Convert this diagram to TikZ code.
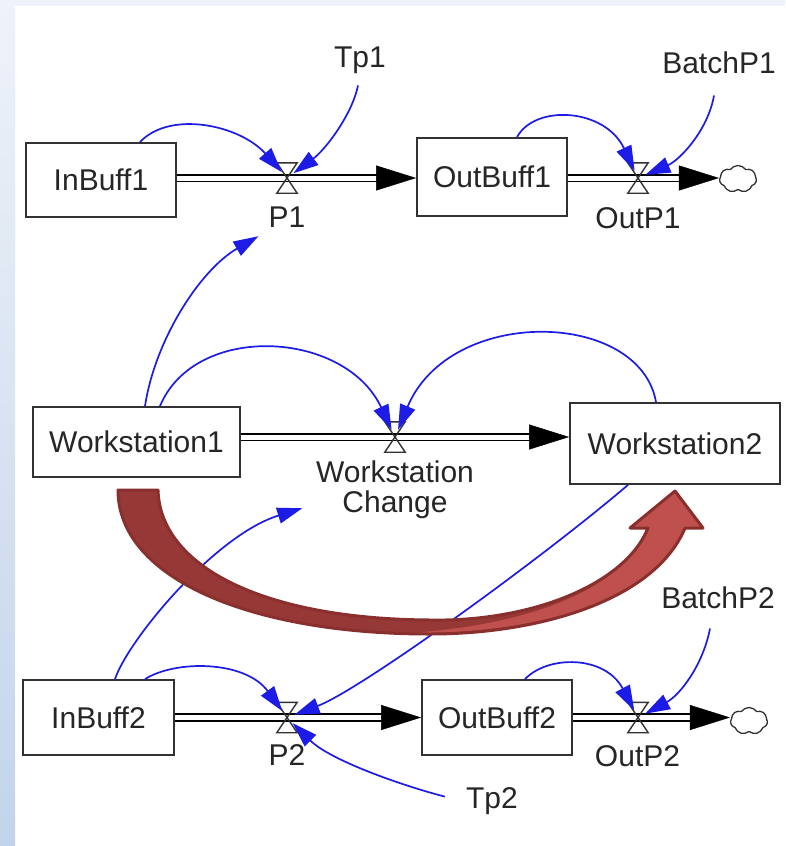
\documentclass[tikz,border=0pt]{standalone}
\usepackage{fontspec}
\setmainfont{Liberation Sans}
\usetikzlibrary{arrows.meta,shapes.symbols,calc}

\definecolor{inkgray}{RGB}{38,38,38}
\definecolor{boxgray}{RGB}{50,50,50}
\definecolor{linkblue}{RGB}{28,28,230}
\definecolor{bandDark}{RGB}{150,56,54}
\definecolor{bandLight}{RGB}{192,80,77}
\definecolor{bandEdge}{RGB}{137,48,46}
\definecolor{stripTop}{RGB}{238,242,250}
\definecolor{stripBot}{RGB}{195,212,234}

\begin{document}
\begin{tikzpicture}[x=1pt,y=-1pt,
  every node/.style={font=\fontsize{30}{34}\selectfont, text=inkgray},
  stock/.style={draw=boxgray, line width=1.8pt, fill=white, inner sep=0pt},
  valve/.style={minimum width=20pt, minimum height=30pt, inner sep=0pt},
  valveline/.style={draw=boxgray, line width=1.4pt, line join=miter},
  lbl/.style={anchor=base, inner sep=2pt},
  pipe/.style={draw=black, double=white, double distance=5pt, line width=1.6pt},
  pipehead/.style={-{Triangle[length=40pt,width=25pt]}, black, line width=0.5pt},
  sink/.style={cloud, cloud puffs=7, cloud puff arc=110, draw=boxgray, line width=1.3pt,
               minimum width=37pt, minimum height=27pt, inner sep=0pt, fill=white},
  link/.style={draw=linkblue, line width=1.7pt,
               -{Triangle[length=25pt,width=16pt]}, shorten >=8pt},
  band/.style={draw=bandEdge, line width=3pt, line join=round}
]
\useasboundingbox (0,0) rectangle (785,846);

% page frame
\fill[white] (0,0) rectangle (785,846);
\fill[stripTop] (0,0) rectangle (785,6);
\shade[top color=stripTop, bottom color=stripBot] (0,0) rectangle (15,846);

% stocks
\node[stock, minimum width=150pt, minimum height=74pt] (ib1) at (101,180) {InBuff1};
\node[stock, minimum width=150pt, minimum height=78pt] (ob1) at (492,177) {OutBuff1};
\node[stock, minimum width=207pt, minimum height=70pt] (ws1) at (136.5,442) {Workstation1};
\node[stock, minimum width=210pt, minimum height=81pt] (ws2) at (675,443.5) {Workstation2};
\node[stock, minimum width=151pt, minimum height=75pt] (ib2) at (98.5,717.5) {InBuff2};
\node[stock, minimum width=150pt, minimum height=75pt] (ob2) at (497,717.5) {OutBuff2};

% sinks
\node[sink] (sink1) at (738,179) {};
\node[sink] (sink2) at (749,721) {};

% valves
\node[valve] (p1) at (287,178) {};
\node[valve] (op1) at (638,178) {};
\node[valve] (wc) at (395,437) {};
\node[valve] (p2) at (287,717.5) {};
\node[valve] (op2) at (638,717.5) {};

% flow pipes
\draw[pipe, shorten >=34pt] (ib1.east |- p1) -- (ob1.west |- p1);
\draw[pipehead] ($(ob1.west |- p1)+(-40,0)$) -- (ob1.west |- p1);
\draw[pipe, shorten >=34pt] (ob1.east |- op1) -- (sink1.west |- op1);
\draw[pipehead] ($(sink1.west |- op1)+(-40,0)$) -- (sink1.west |- op1);
\draw[pipe, shorten >=34pt] (ws1.east |- wc) -- (ws2.west |- wc);
\draw[pipehead] ($(ws2.west |- wc)+(-40,0)$) -- (ws2.west |- wc);
\draw[pipe, shorten >=34pt] (ib2.east |- p2) -- (ob2.west |- p2);
\draw[pipehead] ($(ob2.west |- p2)+(-40,0)$) -- (ob2.west |- p2);
\draw[pipe, shorten >=34pt] (ob2.east |- op2) -- (sink2.west |- op2);
\draw[pipehead] ($(sink2.west |- op2)+(-40,0)$) -- (sink2.west |- op2);

% valve bow-ties
\foreach \v in {p1,op1,wc,p2,op2}
  \draw[valveline] (\v.north west) -- (\v.north east) -- (\v.south west) -- (\v.south east) -- cycle;

% labels
\node[lbl] (p1l) at (287,227) {P1};
\node[lbl] (op1l) at (638,228) {OutP1};
\node[lbl] (wcl) at (395,482) {Workstation};
\node[lbl] (wcl2) at (395,512) {Change};
\node[lbl] (p2l) at (287,765) {P2};
\node[lbl] (op2l) at (637.5,766) {OutP2};
\node[lbl] (tp1) at (360,67) {Tp1};
\node[lbl] (bp1) at (719,73) {BatchP1};
\node[lbl] (tp2) at (492,808) {Tp2};
\node[lbl] (bp2) at (718,608) {BatchP2};

% information links
\draw[link] ($(ib1.north)+(39,0)$) .. controls (170,110) and (240,125) .. (p1.center);
\draw[link] ($(tp1.south)+(-2,10)$) .. controls (352,115) and (325,150) .. (p1.center);
\draw[link] ($(ob1.north)+(25,0)$) .. controls (535,104) and (605,108) .. (op1.center);
\draw[link] ($(bp1.south)+(-5,20)$) .. controls (708,130) and (680,160) .. (op1.center);
\draw[link, shorten >=0pt] ($(ws1.north)+(8.5,0)$) .. controls (155,340) and (200,270) .. ($(p1l.south west)+(-8,7)$);
\draw[link] ($(ws1.north)+(23.5,0)$) .. controls (195,322) and (345,330) .. (wc.center);
\draw[link] ($(ws2.north)+(-19,0)$) .. controls (640,310) and (450,305) .. (wc.center);
\draw[link, shorten >=0pt] ($(ib2.north)+(16.5,0)$) .. controls (128,640) and (215,535) .. ($(wcl2.west)+(-38,4)$);
\draw[link] ($(ws2.south)+(-47,0)$) .. controls (540,560) and (360,690) .. (p2.center);
\draw[link] ($(ib2.north)+(46.5,0)$) .. controls (175,660) and (245,660) .. (p2.center);
\draw[link] ($(tp2.west)+(-19,-4)$) .. controls (400,785) and (330,760) .. (p2.center);
\draw[link] ($(ob2.north)+(28,0)$) .. controls (548,655) and (605,655) .. (op2.center);
\draw[link] ($(bp2.south)+(-8,18)$) .. controls (703,665) and (680,695) .. (op2.center);

% curved block arrow from Workstation1 to Workstation2
\def\bandoutline{
  (118,490) .. controls (118,578) and (250,634) .. (430,634)
  .. controls (540,634) and (655,600) .. (685,528)
  -- (703,528) -- (675,491) -- (630,528) -- (648,528)
  .. controls (625,585) and (530,622) .. (430,620)
  .. controls (260,619) and (160,565) .. (158,490) -- cycle}
\fill[bandDark] \bandoutline;
\fill[bandLight]
  (410,633) .. controls (540,634) and (655,600) .. (685,528)
  -- (703,528) -- (675,491) -- (630,528) -- (648,528)
  .. controls (625,585) and (540,624) .. (410,633) -- cycle;
\draw[band] \bandoutline;
\end{tikzpicture}
\end{document}
